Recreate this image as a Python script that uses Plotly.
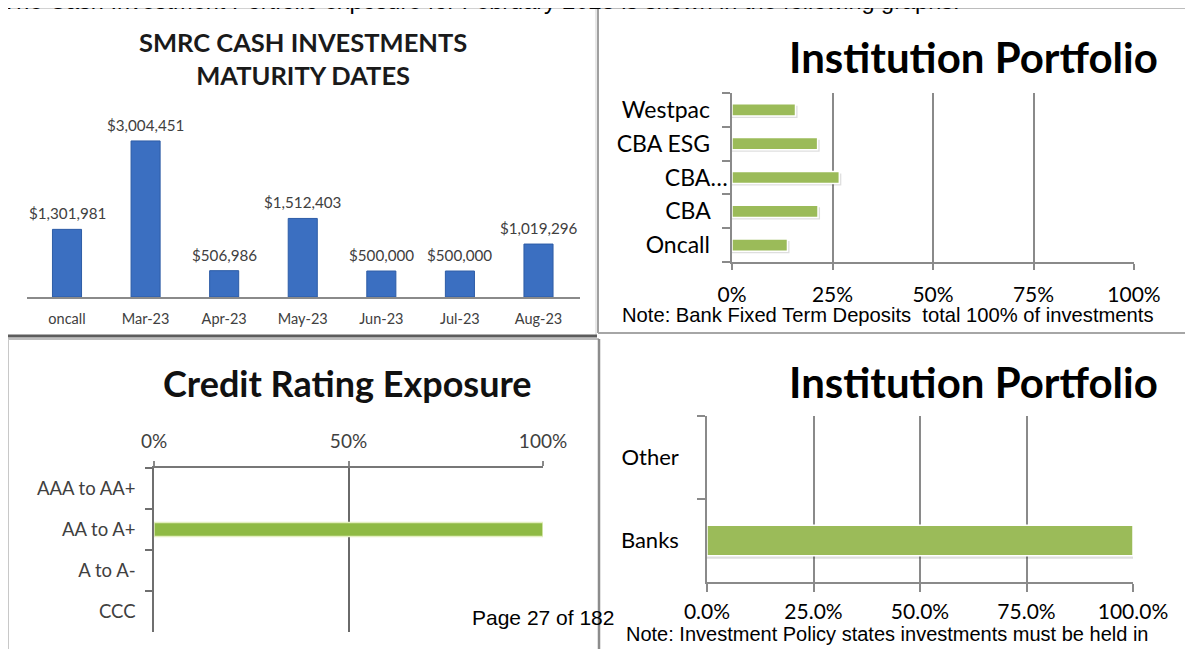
import plotly.graph_objects as go

W, H = 1193, 649

# ---------------- data ----------------
# Chart 1: SMRC cash investments maturity dates
maturity_months = ["oncall", "Mar-23", "Apr-23", "May-23", "Jun-23", "Jul-23", "Aug-23"]
maturity_amounts = [1301981, 3004451, 506986, 1512403, 500000, 500000, 1019296]

# Chart 2: Institution portfolio (banks)
institutions = ["Oncall", "CBA", "CBA…", "CBA ESG", "Westpac"]
institution_shares = [0.138, 0.214, 0.267, 0.213, 0.158]
pct_ticks = [0, 0.25, 0.5, 0.75, 1.0]

# Chart 3: Credit rating exposure
ratings = ["CCC", "A to A-", "AA to A+", "AAA to AA+"]
rating_shares = [0, 0, 1.0, 0]
rating_ticks = [0, 0.5, 1.0]

# Chart 4: Institution portfolio (type)
inst_types = ["Banks", "Other"]
inst_type_shares = [1.0, 0]

header_text = "The Cash Investment Portfolio exposure for February 2023 is shown in the following graphs."
note_top = "Note: Bank Fixed Term Deposits  total 100% of investments"
note_bottom = "Note: Investment Policy states investments must be held in"
page_text = "Page 27 of 182"

# The page is drawn 8px in from the window corner (body margin); positions below
# are given in window pixels and converted to paper fractions.
OFF = 8


def fx(px):
    return (px - OFF) / W


def fy(py):
    return 1 - (py - OFF) / H


CAL = "Lato"
ARIAL = "Liberation Sans"
GRID = "#8a8a8a"
GREEN = "#9BBB59"


def outline_widths(values, w):
    return [w if v > 0 else 0 for v in values]


def shadow_of(values, extra):
    return [v + extra if v > 0 else 0 for v in values]


fig = go.Figure()

# Chart 1
fig.add_trace(go.Bar(
    x=maturity_months, y=maturity_amounts, xaxis="x", yaxis="y",
    width=0.37, marker=dict(color="#3b6fc1", line=dict(color="#2d5ca6", width=1)),
    showlegend=False, hoverinfo="skip"))

# Chart 2 (soft shadow + bars)
fig.add_trace(go.Bar(
    y=institutions, x=shadow_of(institution_shares, 0.005), orientation="h",
    xaxis="x2", yaxis="y2", width=0.36, offset=-0.24,
    marker=dict(color="rgba(0,0,0,0.13)", line=dict(width=0)),
    showlegend=False, hoverinfo="skip"))
fig.add_trace(go.Bar(
    y=institutions, x=institution_shares, orientation="h", xaxis="x2", yaxis="y2",
    width=0.36, marker=dict(color=GREEN, line=dict(color="white",
                                                    width=outline_widths(institution_shares, 1.5))),
    showlegend=False, hoverinfo="skip"))

# Chart 3
fig.add_trace(go.Bar(
    y=ratings, x=rating_shares, orientation="h", xaxis="x3", yaxis="y3",
    width=0.34, marker=dict(color="#8fba44", line=dict(color="#e4efc0",
                                                        width=outline_widths(rating_shares, 1.5))),
    showlegend=False, hoverinfo="skip"))

# Chart 4 (soft shadow + bars)
fig.add_trace(go.Bar(
    y=inst_types, x=shadow_of(inst_type_shares, 0.006), orientation="h",
    xaxis="x4", yaxis="y4", width=0.37, offset=-0.22,
    marker=dict(color="rgba(0,0,0,0.13)", line=dict(width=0)),
    showlegend=False, hoverinfo="skip"))
fig.add_trace(go.Bar(
    y=inst_types, x=inst_type_shares, orientation="h", xaxis="x4", yaxis="y4",
    width=0.37, marker=dict(color=GREEN, line=dict(color="white",
                                                    width=outline_widths(inst_type_shares, 1.5))),
    showlegend=False, hoverinfo="skip"))

annotations = []
for m, v in zip(maturity_months, maturity_amounts):
    annotations.append(dict(
        x=m, y=v, xref="x", yref="y", text=f"${v:,}", showarrow=False,
        yanchor="bottom", yshift=5,
        font=dict(family=CAL, size=15.2, color="#404040")))


def txt(x, y, text, size, family=CAL, color="#000", weight=400, xanchor="center"):
    return dict(x=fx(x), y=fy(y), xref="paper", yref="paper", xanchor=xanchor,
                yanchor="middle", text=text, showarrow=False,
                font=dict(family=family, size=size, color=color, weight=weight))


annotations += [
    txt(0, 1, header_text, 23.5, ARIAL, xanchor="left"),
    txt(303, 58, "SMRC CASH INVESTMENTS<br>MATURITY DATES", 25.5, color="#1a1a1a", weight=700),
    txt(973, 57, "Institution Portfolio", 42, weight=700),
    txt(347, 383, "Credit Rating Exposure", 36, color="#111", weight=700),
    txt(973, 382, "Institution Portfolio", 42, weight=700),
    txt(620, 315, note_top, 20.2, ARIAL, xanchor="left"),
    txt(624, 634, note_bottom, 20, ARIAL, xanchor="left"),
    txt(470, 617, page_text, 21, ARIAL, xanchor="left"),
]


def line(x0, y0, x1, y1, color, width):
    return dict(type="line", xref="paper", yref="paper",
                x0=fx(x0), y0=fy(y0), x1=fx(x1), y1=fy(y1),
                line=dict(color=color, width=width), layer="above")


shapes = [
    line(7, 8, 597, 8, "#d2d2d2", 2),
    line(7, 8, 7, 337, "#d2d2d2", 2),
    line(596, 8, 596, 336, "#e0e0e0", 1.5),
    line(7, 336, 597, 336, "#5c5c5c", 3),
    line(597, 8, 1193, 8, "#a6a6a6", 1.5),
    line(598, 8, 598, 333, "#a0a0a0", 2),
    line(598, 333, 1193, 333, "#a6a6a6", 2),
    line(8, 339, 599, 339, "#a8a8a8", 1.5),
    line(8, 339, 8, 649, "#c8c8c8", 2),
    line(599, 339, 599, 649, "#8c8c8c", 2.5),
]

pct_common = dict(range=[0, 1], zeroline=False, showgrid=True, gridcolor=GRID, gridwidth=1.5,
                  showline=True, linecolor=GRID, linewidth=1.5, ticks="outside",
                  tickcolor=GRID, tickwidth=1.5, fixedrange=True, automargin=False)
cat_common = dict(type="category", showline=True, linecolor=GRID, linewidth=1.5,
                  ticks="outside", tickcolor=GRID, tickwidth=1.5, tickson="boundaries",
                  showgrid=False, zeroline=False, fixedrange=True, automargin=False)

# institution labels: the truncated label sits further right, as in the source
inst_text = [n if n.endswith("…") else n + "\u00a0" * 3 for n in institutions]

fig.update_layout(
    template="none", barmode="overlay",
    width=W, height=H, margin=dict(l=0, r=0, t=0, b=0, autoexpand=False),
    paper_bgcolor="white", plot_bgcolor="white",
    showlegend=False,
    xaxis=dict(domain=[fx(26.5), fx(579.5)], anchor="y", type="category",
               showline=True, linecolor="#8a8a8a", linewidth=2, ticks="",
               showgrid=False, ticklabelstandoff=8, fixedrange=True, automargin=False,
               tickfont=dict(family=CAL, size=14.5, color="#404040")),
    yaxis=dict(domain=[fy(297), fy(110)], anchor="x", range=[0, 3.6e6],
               visible=False, fixedrange=True, automargin=False),
    xaxis2=dict(domain=[fx(732), fx(1134)], anchor="y2", tickvals=pct_ticks,
                tickformat=".0%", ticklen=6, ticklabelstandoff=7,
                tickfont=dict(family=CAL, size=21, color="#000"), **pct_common),
    yaxis2=dict(domain=[fy(262), fy(93)], anchor="x2", categoryorder="array",
                categoryarray=institutions, range=[-0.5, len(institutions) - 0.5],
                tickmode="array", tickvals=institutions, ticktext=inst_text,
                ticklen=8, ticklabelstandoff=-2,
                tickfont=dict(family=CAL, size=23, color="#000"), **cat_common),
    xaxis3=dict(domain=[fx(154), fx(543)], anchor="y3", side="top", tickvals=rating_ticks,
                tickformat=".0%", ticklen=5, ticklabelstandoff=6,
                tickfont=dict(family=CAL, size=19, color="#404040"),
                **{**pct_common, "gridcolor": "#6a6a6a", "linecolor": "#777777"}),
    yaxis3=dict(domain=[fy(632), fy(468)], anchor="x3", categoryorder="array",
                categoryarray=ratings, range=[-0.5, len(ratings) - 0.5],
                ticklen=7, ticklabelstandoff=13,
                tickfont=dict(family=CAL, size=18.5, color="#404040"),
                **{**cat_common, "linecolor": "#6f6f6f", "tickcolor": "#6f6f6f"}),
    xaxis4=dict(domain=[fx(707), fx(1133)], anchor="y4", tickvals=pct_ticks,
                tickformat=".1%", ticklen=8, ticklabelstandoff=2,
                tickfont=dict(family=CAL, size=21, color="#000"), **pct_common),
    yaxis4=dict(domain=[fy(582), fy(416)], anchor="x4", categoryorder="array",
                categoryarray=inst_types, range=[-0.5, len(inst_types) - 0.5],
                ticklen=8, ticklabelstandoff=22,
                tickfont=dict(family=CAL, size=22, color="#000"), **cat_common),
    annotations=annotations,
    shapes=shapes,
)

fig.write_html("out.html")
